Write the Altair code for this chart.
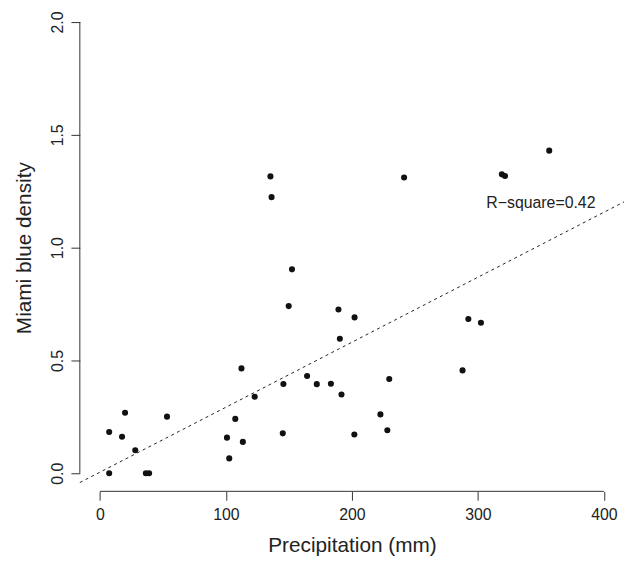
import altair as alt
import pandas as pd

# ---- data ----
precip = [7.3, 7.3, 17.5, 19.9, 28.0, 36.4, 39.0, 53.2, 100.8, 102.6, 107.4,
          112.3, 113.4, 122.8, 135.3, 136.2, 145.1, 145.6, 149.8, 152.4, 164.4,
          172.1, 183.3, 189.3, 190.4, 191.7, 201.9, 202.1, 222.6, 228.1, 229.6,
          241.4, 287.8, 292.4, 302.4, 319.0, 321.5, 356.6]
density = [0.0, 0.183, 0.162, 0.268, 0.102, 0.0, 0.0, 0.251, 0.158, 0.066, 0.241,
           0.465, 0.139, 0.339, 1.316, 1.224, 0.177, 0.396, 0.741, 0.904, 0.431,
           0.395, 0.397, 0.726, 0.596, 0.349, 0.172, 0.691, 0.261, 0.191, 0.418,
           1.311, 0.456, 0.684, 0.667, 1.325, 1.318, 1.430]

x_ticks = [0, 100, 200, 300, 400]
y_ticks = [0.0, 0.5, 1.0, 1.5, 2.0]
x_domain = [-16, 416]
y_domain = [-0.08, 2.0]

fit_intercept = 0.005
fit_slope = 0.00288
fit_x = [-16, 416]

note_text = ["R\u2212square=0.42"]
note_x = [350]
note_y = [1.2]

FONT = "Liberation Sans"
W, H = 550, 474.24

pts = pd.DataFrame({"precip": precip, "density": density})
fit = pd.DataFrame({"precip": fit_x,
                    "density": [fit_intercept + fit_slope * v for v in fit_x]})
note = pd.DataFrame({"precip": note_x, "density": note_y, "t": note_text})
xline = pd.DataFrame({"precip": [x_ticks[0]], "p2": [x_ticks[-1]]})
yline = pd.DataFrame({"density": [y_ticks[0]], "d2": [y_ticks[-1]]})

xs = alt.Scale(domain=x_domain, nice=False, zero=False)
ys = alt.Scale(domain=y_domain, nice=False, zero=False)

x_axis = alt.Axis(values=x_ticks, domain=False, grid=False, tickSize=9,
                  tickColor="#333", tickWidth=1, labelFont=FONT, labelFontSize=16,
                  labelColor="#222", labelPadding=6.5, labelFlush=False,
                  labelOverlap=False,
                  title="Precipitation (mm)", titleFont=FONT, titleFontSize=21,
                  titleFontWeight="normal", titleColor="#222", titleX=W / 2,
                  titleY=60.5, titleAlign="center", titleBaseline="alphabetic")
y_axis = alt.Axis(values=y_ticks, format=".1f", domain=False, grid=False,
                  tickSize=9, tickColor="#333", tickWidth=1, labelFont=FONT,
                  labelFontSize=16, labelColor="#222", labelAngle=270,
                  labelAlign="center", labelBaseline="bottom", labelPadding=5.3,
                  labelFlush=False, labelOverlap=False,
                  title="Miami blue density", titleFont=FONT, titleFontSize=21,
                  titleFontWeight="normal", titleColor="#222", titleAngle=270,
                  titleX=-49.6, titleY=228, titleAlign="center",
                  titleBaseline="alphabetic")

points = alt.Chart(pts).mark_circle(size=38, color="#111", opacity=1).encode(
    x=alt.X("precip:Q", scale=xs, axis=x_axis, title="Precipitation (mm)"),
    y=alt.Y("density:Q", scale=ys, axis=y_axis, title="Miami blue density"),
)

line = alt.Chart(fit).mark_line(color="#222", strokeWidth=1,
                                strokeDash=[3, 3.5]).encode(
    x=alt.X("precip:Q", scale=xs),
    y=alt.Y("density:Q", scale=ys),
)

label = alt.Chart(note).mark_text(font=FONT, fontSize=16, color="#222",
                                  align="center", baseline="middle").encode(
    x=alt.X("precip:Q", scale=xs),
    y=alt.Y("density:Q", scale=ys),
    text="t:N",
)

x_rule = alt.Chart(xline).mark_rule(color="#333", strokeWidth=1).encode(
    x=alt.X("precip:Q", scale=xs),
    x2="p2:Q",
    y=alt.value(H),
)
y_rule = alt.Chart(yline).mark_rule(color="#333", strokeWidth=1).encode(
    y=alt.Y("density:Q", scale=ys),
    y2="d2:Q",
    x=alt.value(0),
)

chart = alt.layer(points, line, label, x_rule, y_rule).properties(
    width=W, height=H,
    padding={"left": 72.6, "top": 11.3, "right": 5, "bottom": 66},
    autosize=alt.AutoSizeParams(type="none"),
    background="white",
).configure_view(stroke=None)

chart.save("out.html", embed_options={"renderer": "svg", "actions": False})
